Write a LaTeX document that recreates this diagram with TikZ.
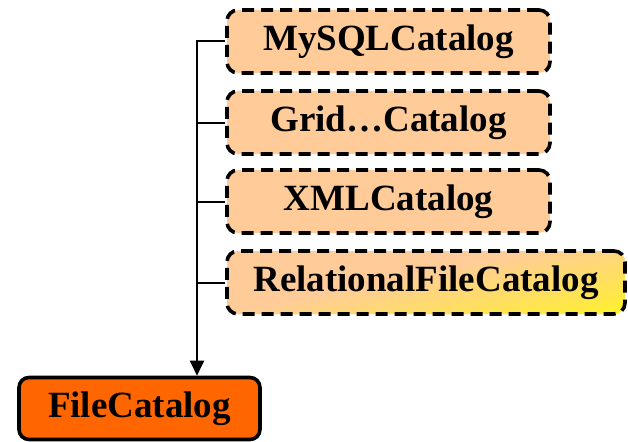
\documentclass[tikz,border=0pt]{standalone}
\usepackage{fontspec}
\setmainfont{Liberation Serif}
\usetikzlibrary{arrows.meta,shadings}
\definecolor{peach}{HTML}{FFCC99}
\definecolor{fcorange}{HTML}{FF6600}
\definecolor{yel}{HTML}{FFFF00}
\pgfdeclareverticalshading{relshade}{100bp}{color(0bp)=(yel); color(10bp)=(yel); color(30bp)=(yel!50!peach); color(55bp)=(peach); color(100bp)=(peach)}
\begin{document}
\begin{tikzpicture}[x=1pt,y=-1pt,
  sub/.style={draw=black, line width=3.6pt, dash pattern=on 12pt off 7pt, rounded corners=11pt,
    fill=peach, minimum height=63pt, inner sep=0pt,
    font=\fontsize{37}{40}\selectfont\bfseries},
  base/.style={draw=black, line width=3.6pt, rounded corners=10pt, fill=fcorange,
    minimum height=62pt, minimum width=241pt, inner sep=0pt,
    font=\fontsize{37}{40}\selectfont\bfseries},
  conn/.style={line width=2pt, draw=black}]
\useasboundingbox (0,0) rectangle (628,441);
\node[sub, minimum width=323pt] (my) at (388.5,41.5) {MySQLCatalog};
\node[sub, minimum width=323pt] (gr) at (388.5,122.5) {Grid…Catalog};
\node[sub, minimum width=323pt] (xml) at (388.5,201.5) {XMLCatalog};
\node[sub, minimum width=398pt, draw=black, shading=relshade, shading angle=12] (rel) at (426,282.5) {RelationalFileCatalog};
\node[base] (fc) at (139.5,408.5) {FileCatalog};
\coordinate (top) at (197,41.5);
\draw[conn, -{Triangle[length=15pt,width=14pt]}] (my.west) -- (top) -- (top |- fc.north);
\draw[conn] (gr.west) -- (gr.west -| top);
\draw[conn] (xml.west) -- (xml.west -| top);
\draw[conn] (rel.west) -- (rel.west -| top);
\end{tikzpicture}
\end{document}
